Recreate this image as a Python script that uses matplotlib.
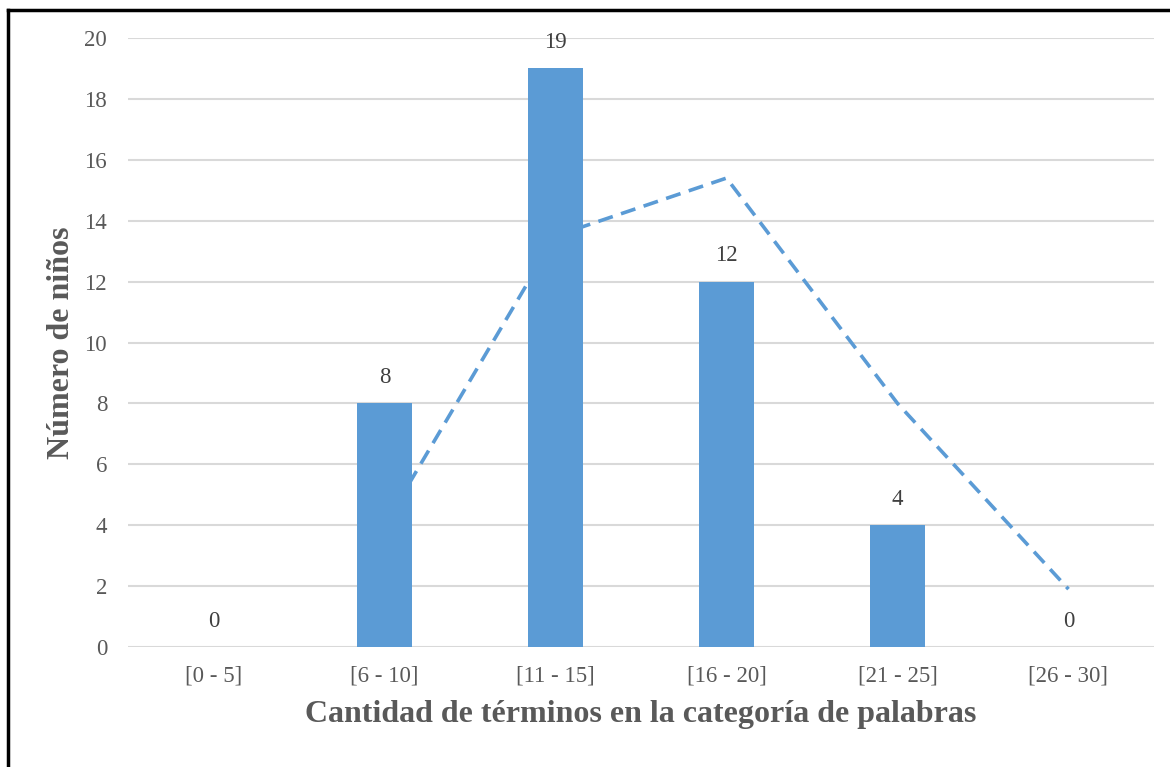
import matplotlib
matplotlib.use("Agg")
import matplotlib.pyplot as plt
from matplotlib.lines import Line2D

plt.rcParams['font.family'] = ['Liberation Serif', 'DejaVu Serif']

categorias = ["[0 - 5]", "[6 - 10]", "[11 - 15]", "[16 - 20]", "[21 - 25]", "[26 - 30]"]
ninos = [0, 8, 19, 12, 4, 0]
# media movil (2 periodos), desde la segunda categoria
media_x = [1, 2, 3, 4, 5]
media_valores = [4, 13.5, 15.4, 8, 1.9]

azul = "#5B9BD5"
gris = "#595959"

fig = plt.figure(figsize=(11.7, 7.67), dpi=100)
ax = fig.add_axes([128 / 1170, 1 - 647 / 767, 1026 / 1170, 609 / 767])

ax.plot(media_x, media_valores, color=azul, lw=2.6, ls=(0, (4.2, 2.4)), zorder=2)
x = list(range(len(categorias)))
ax.bar(x, ninos, width=0.316, color=azul, zorder=3)

for xi, v in zip(x, ninos):
    ax.text(xi, v + 0.5, str(v), ha="center", va="bottom", fontsize=16.5, color="#404040")

ax.set_xlim(-0.5, 5.5)
ax.set_ylim(0, 20)
ax.set_yticks(range(0, 21, 2))
ax.set_xticks(x)
ax.set_xticklabels(categorias)
ax.tick_params(axis="both", length=0, labelsize=16.5, labelcolor=gris)
ax.tick_params(axis="x", pad=13)
ax.tick_params(axis="y", pad=15)
ax.grid(axis="y", color="#D9D9D9", lw=1.5, zorder=0)
ax.set_axisbelow(True)
for s in ax.spines.values():
    s.set_visible(False)

ax.set_xlabel("Cantidad de términos en la categoría de palabras", fontsize=23,
              fontweight="bold", color=gris, labelpad=10)
ax.set_ylabel("Número de niños", fontsize=23, fontweight="bold", color=gris, labelpad=6)

# marco exterior
fig.add_artist(Line2D([7.5 / 1170, 7.5 / 1170], [0, 1 - 10 / 767], color="black", lw=2.5))
fig.add_artist(Line2D([7.5 / 1170, 1], [1 - 10 / 767, 1 - 10 / 767], color="black", lw=2.5))

fig.savefig("out.png", dpi=100)
